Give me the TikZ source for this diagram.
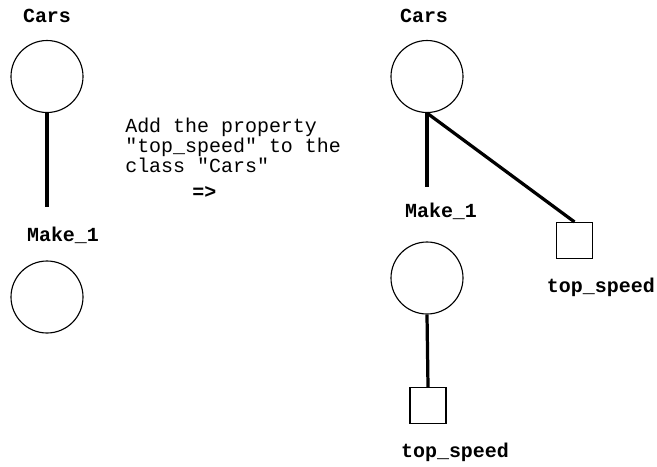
\documentclass[tikz,border=0pt]{standalone}
\usepackage{fontspec}
\setmonofont{Liberation Mono}
\begin{document}
\begin{tikzpicture}[
  cls/.style={circle, draw, line width=0.8pt, minimum size=1.8cm, inner sep=0pt},
  prop/.style={rectangle, draw, line width=0.8pt, minimum size=0.9cm, inner sep=0pt},
  lbl/.style={font=\ttfamily\bfseries\fontsize{14.2}{14.2}\selectfont, inner sep=0pt, text height=0.3cm, text depth=0.1cm},
  link/.style={line width=2.3pt},
  font=\ttfamily\fontsize{14.2}{14.2}\selectfont
]
\useasboundingbox (0,0) rectangle (16.425,-11.65);

% before
\node[cls] (carsA) at (1.175,-1.9125) {};
\node[lbl, above of=carsA, node distance=1.46cm] (carsAlbl) {Cars};
\coordinate (makeAend) at (1.175,-5.175);
\node[cls] (makeA) at (1.175,-7.425) {};
\node[lbl, above of=makeA, node distance=1.5cm, xshift=0.4cm] (makeAlbl) {Make\_1};

% what changes
\node[anchor=north west, align=left, inner sep=0pt] (note) at (3.125,-2.95) {Add the property\\"top\_speed" to the\\class "Cars"};
\node[lbl, anchor=base west] (go) at (4.8,-4.97) {=>};

% after
\node[cls] (carsB) at (10.675,-1.9125) {};
\node[lbl, above of=carsB, node distance=1.46cm, xshift=-0.075cm] (carsBlbl) {Cars};
\coordinate (makeBend) at (10.675,-4.675);
\node[cls] (makeB) at (10.675,-6.95) {};
\node[lbl, above of=makeB, node distance=1.625cm, xshift=0.35cm] (makeBlbl) {Make\_1};
\node[prop] (speedB) at (14.3625,-6.0125) {};
\node[lbl, below of=speedB, node distance=1.19cm, xshift=0.66cm] (speedBlbl) {top\_speed};
\node[prop] (speedC) at (10.7,-10.1375) {};
\node[lbl, below of=speedC, node distance=1.19cm, xshift=0.675cm] (speedClbl) {top\_speed};

\draw[link] (carsA.south) -- (makeAend);
\draw[link] (carsB.south) -- (makeBend);
\draw[link] (carsB.south) -- (speedB.north);
\draw[link] (makeB.south) -- (speedC.north);
\end{tikzpicture}
\end{document}
